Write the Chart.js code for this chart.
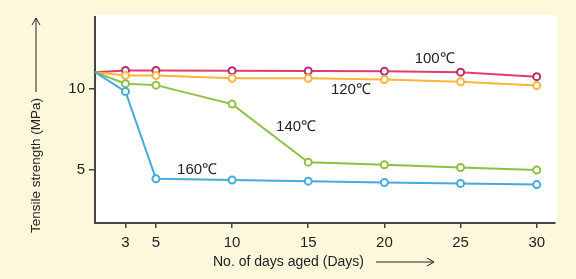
<!DOCTYPE html>
<html>
<head>
<meta charset="utf-8">
<script src="https://cdn.jsdelivr.net/npm/chart.js@4"></script>
<style>
  html, body { margin: 0; padding: 0; background: #fdf8dc; }
  #wrap { width: 576px; height: 279px; position: relative; }
</style>
</head>
<body>
<div id="wrap"><canvas id="myChart" width="576" height="279"></canvas></div>
<script>
// days aged, first point is the shared start value
const days = [1, 3, 5, 10, 15, 20, 25, 30]
const s100 = [11.0, 11.1, 11.1, 11.09, 11.07, 11.05, 11.0, 10.72]
const s120 = [11.0, 10.8, 10.8, 10.62, 10.62, 10.54, 10.41, 10.17]
const s140 = [11.0, 10.29, 10.2, 9.03, 5.45, 5.29, 5.12, 4.96]
const s160 = [11.0, 9.8, 4.43, 4.35, 4.28, 4.2, 4.14, 4.07]
const seriesNames = ["100℃", "120℃", "140℃", "160℃"]
const xTicks = [3, 5, 10, 15, 20, 25, 30]
const yTicks = [5, 10]

const lineColors = ["#de3d6e", "#f7b53b", "#8fc044", "#47a9dc"]
const pointColors = ["#b52d6a", "#f7b53b", "#8fc044", "#47a9dc"]
// where each series label sits (data coords)
const labelPos = [[23.3, 11.85], [17.8, 9.88], [14.2, 7.65], [7.7, 4.96]]

const font = "Liberation Sans, Arial, sans-serif"

function makeSet(name, vals, i) {
    return {
        label: name,
        data: days.map((d, k) => ({ x: d, y: vals[k] })),
        borderColor: lineColors[i],
        borderWidth: 2,
        pointBackgroundColor: "#ffffff",
        pointBorderColor: pointColors[i],
        pointBorderWidth: 2,
        pointRadius: days.map(d => d === 1 ? 0 : 3.5),
        tension: 0
    }
}

const sets = [s100, s120, s140, s160].map((v, i) => makeSet(seriesNames[i], v, i))
// draw 160 first so 100 ends up on top
sets.reverse()

const extras = {
    id: "extras",
    beforeDraw(chart) {
        const { ctx, chartArea: a } = chart
        ctx.save()
        ctx.fillStyle = "#ffffff"
        ctx.fillRect(a.left, a.top - 2, a.right - a.left + 2, a.bottom - a.top + 2)
        ctx.restore()
    },
    afterDraw(chart) {
        const { ctx } = chart
        const xs = chart.scales.x, ys = chart.scales.y
        ctx.save()
        ctx.fillStyle = "#222"
        ctx.font = "15px " + font
        ctx.textAlign = "center"
        ctx.textBaseline = "middle"
        seriesNames.forEach((n, i) => {
            ctx.fillText(n, xs.getPixelForValue(labelPos[i][0]), ys.getPixelForValue(labelPos[i][1]))
        })

        // x title + arrow
        ctx.font = "14px " + font
        ctx.textAlign = "left"
        ctx.fillText("No. of days aged (Days)", 213, 262)
        ctx.strokeStyle = "#222"
        ctx.lineWidth = 1
        ctx.beginPath()
        ctx.moveTo(376, 262); ctx.lineTo(434, 262)
        ctx.moveTo(427, 258); ctx.lineTo(434, 262); ctx.lineTo(427, 266)
        ctx.stroke()

        // y title + arrow
        ctx.translate(36, 0)
        ctx.rotate(-Math.PI / 2)
        ctx.font = "13.5px " + font
        ctx.textAlign = "left"
        ctx.fillText("Tensile strength (MPa)", -233, 0)
        ctx.beginPath()
        ctx.moveTo(-92, 0); ctx.lineTo(-18, 0)
        ctx.moveTo(-25, -4); ctx.lineTo(-18, 0); ctx.lineTo(-25, 4)
        ctx.stroke()
        ctx.restore()
    }
}

const config = {
    type: "line",
    data: { datasets: sets },
    options: {
        responsive: false,
        animation: false,
        layout: { padding: { top: 17, right: 21, left: 0, bottom: 0 } },
        plugins: { legend: { display: false }, tooltip: { enabled: false } },
        scales: {
            x: {
                type: "linear",
                min: 1,
                max: 31.2,
                afterBuildTicks: s => { s.ticks = xTicks.map(v => ({ value: v })) },
                afterFit: s => { s.height = 56 },
                border: { color: "#444", width: 2 },
                grid: { drawOnChartArea: false, drawTicks: true, tickLength: 5, color: "#444", lineWidth: 1.5 },
                ticks: { color: "#222", font: { family: font, size: 15 }, padding: 6, autoSkip: false, maxRotation: 0 }
            },
            y: {
                min: 1.7,
                max: 14.4,
                afterBuildTicks: s => { s.ticks = yTicks.map(v => ({ value: v })) },
                afterFit: s => { s.width = 95 },
                border: { color: "#444", width: 2 },
                grid: { drawOnChartArea: false, drawTicks: true, tickLength: 6, color: "#444", lineWidth: 1.5 },
                ticks: { color: "#222", font: { family: font, size: 15 }, padding: 4 }
            }
        }
    },
    plugins: [extras]
}

new Chart(document.querySelector("#myChart"), config)
</script>
</body>
</html>
